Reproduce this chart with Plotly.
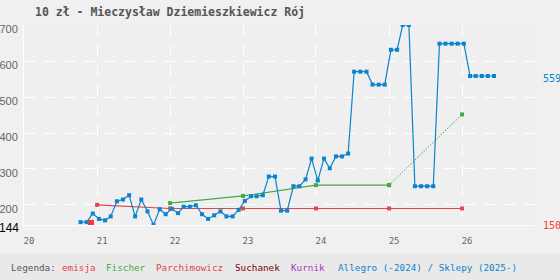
import plotly.graph_objects as go

# ---- data ----
allegro_dates = [
    "2020-10-10", "2020-11-10", "2020-12-10",
    "2021-01-10", "2021-02-10", "2021-03-10", "2021-04-10", "2021-05-10", "2021-06-10",
    "2021-07-10", "2021-08-10", "2021-09-10", "2021-10-10", "2021-11-10", "2021-12-10",
    "2022-01-10", "2022-02-10", "2022-03-10", "2022-04-10", "2022-05-10", "2022-06-10",
    "2022-07-10", "2022-08-10", "2022-09-10", "2022-10-10", "2022-11-10", "2022-12-10",
    "2023-01-10", "2023-02-10", "2023-03-10", "2023-04-10", "2023-05-10", "2023-06-10",
    "2023-07-10", "2023-08-10", "2023-09-10", "2023-10-10", "2023-11-10", "2023-12-10",
    "2024-01-10", "2024-02-10", "2024-03-10", "2024-04-10", "2024-05-10", "2024-06-10",
    "2024-07-10", "2024-08-10", "2024-09-10", "2024-10-10", "2024-11-10", "2024-12-10",
    "2025-01-10", "2025-02-10", "2025-03-10", "2025-04-10", "2025-05-10", "2025-06-10",
    "2025-07-10", "2025-08-10", "2025-09-10", "2025-10-10", "2025-11-10", "2025-12-10",
    "2026-01-10", "2026-02-10", "2026-03-10", "2026-04-10", "2026-05-10", "2026-06-10",
]
allegro_values = [
    152, 152, 176,
    161, 157, 168, 210, 215, 227,
    168, 215, 182, 144, 188, 174,
    189, 177, 195, 195, 199, 174,
    161, 171, 182, 168, 168, 186,
    211, 224, 224, 227, 279, 279,
    184, 184, 252, 252, 271, 329,
    268, 329, 302, 335, 335, 343,
    571, 571, 571, 535, 535, 535,
    632, 632, 701, 701, 252, 252,
    252, 252, 649, 649, 649, 649,
    649, 559, 559, 559, 559, 559,
]

parch_dates = ["2021-01-01", "2022-01-01", "2023-01-01", "2024-01-01", "2025-01-01", "2026-01-01"]
parch_values = [200, 190, 190, 190, 190, 190]

fischer_dates = ["2022-01-01", "2023-01-01", "2024-01-01", "2025-01-01"]
fischer_values = [205, 225, 255, 255]
fischer_proj_dates = ["2025-01-01", "2026-01-01"]
fischer_proj_values = [255, 452]

emisja_dates = ["2020-12-01"]
emisja_values = [150]

year_ticks = ["2020-01-01", "2021-01-01", "2022-01-01", "2023-01-01",
              "2024-01-01", "2025-01-01", "2026-01-01"]
year_labels = ["20", "21", "22", "23", "24", "25", "26"]
y_ticks = [200, 300, 400, 500, 600, 700]

title_text = "10 zł - Mieczysław Dziemieszkiewicz Rój"

C_BLUE = "#0a84cc"
C_RED = "#e04848"
C_EMISJA = "#f03c3c"
C_GREEN = "#44aa44"
C_SUCH = "#800000"
C_KURNIK = "#a040b0"
MONO = "DejaVu Sans Mono"

fig = go.Figure()
fig.add_trace(go.Scatter(x=parch_dates, y=parch_values, mode="lines+markers",
                         line=dict(color=C_RED, width=1.2),
                         marker=dict(symbol="square", size=4, color=C_RED)))
fig.add_trace(go.Scatter(x=fischer_dates, y=fischer_values, mode="lines+markers",
                         line=dict(color=C_GREEN, width=1.2),
                         marker=dict(symbol="square", size=4, color=C_GREEN)))
fig.add_trace(go.Scatter(x=fischer_proj_dates, y=fischer_proj_values, mode="lines+markers",
                         line=dict(color=C_GREEN, width=1, dash="1.5px,1.5px"),
                         marker=dict(symbol="square", size=4, color=C_GREEN)))
fig.add_trace(go.Scatter(x=allegro_dates, y=allegro_values, mode="lines+markers",
                         line=dict(color=C_BLUE, width=1.2),
                         marker=dict(symbol="square", size=4, color=C_BLUE)))
fig.add_trace(go.Scatter(x=emisja_dates, y=emisja_values, mode="markers",
                         marker=dict(symbol="square", size=6, color=C_EMISJA)))

W, H = 560, 280
L, R, T, B = 24, 25, 25, 55
pw = W - L - R


def px(x):
    return (x - L) / pw


annotations = [
    dict(text="144", xref="paper", yref="y", x=px(21), y=144, xanchor="right",
         yanchor="middle", yshift=-3, showarrow=False,
         font=dict(family="Liberation Sans", size=12, color="#000")),
    dict(text=str(allegro_values[-1]), xref="paper", yref="y", x=1, xshift=6,
         y=allegro_values[-1], yshift=-3, xanchor="left", yanchor="middle", showarrow=False,
         font=dict(family=MONO, size=10, color=C_BLUE)),
    dict(text=str(emisja_values[0]), xref="paper", yref="y", x=1, xshift=6,
         y=emisja_values[0], yshift=-3, xanchor="left", yanchor="middle", showarrow=False,
         font=dict(family=MONO, size=10, color=C_EMISJA)),
]

legend_items = [
    ("Legenda:", "#555555", 9),
    ("emisja", C_EMISJA, 60),
    ("Fischer", C_GREEN, 104),
    ("Parchimowicz", C_RED, 154),
    ("Suchanek", C_SUCH, 233),
    ("Kurnik", C_KURNIK, 289),
    ("Allegro (-2024) / Sklepy (2025-)", C_BLUE, 336),
]
for txt, col, xp in legend_items:
    annotations.append(dict(text=txt, xref="paper", yref="paper", x=px(xp),
                            y=-(267 - (H - B)) / (H - T - B), xanchor="left",
                            yanchor="middle", showarrow=False,
                            font=dict(family=MONO, size=9.3, color=col)))

fig.update_layout(
    width=W, height=H,
    margin=dict(l=L, r=R, t=T, b=B, pad=0, autoexpand=False),
    paper_bgcolor="#f0f0f0",
    plot_bgcolor="#efefef",
    showlegend=False,
    title=dict(text=title_text, x=35 / W, xanchor="left", y=1 - 12 / H, yanchor="middle",
               font=dict(family=MONO, size=11.5, color="#555555", weight="bold")),
    annotations=annotations,
    shapes=[dict(type="rect", xref="paper", yref="paper",
                 x0=-L / pw, x1=(W - L) / pw,
                 y0=-(H - T) / (H - T - B), y1=-(254 - (H - B)) / (H - T - B),
                 fillcolor="#e9e9e9", line=dict(width=0), layer="below")],
    xaxis=dict(type="date", range=["2020-01-01", "2027-01-01"], automargin=False,
               tickvals=year_ticks, ticktext=year_labels,
               showgrid=True, gridcolor="white", gridwidth=1, griddash="11px,9px",
               showline=True, linecolor="white", linewidth=1, zeroline=False,
               ticks="", ticklabelstandoff=7, ticklabelshift=5,
               tickfont=dict(family=MONO, size=9, color="#666666")),
    yaxis=dict(range=[144, 701], tickvals=y_ticks, automargin=False,
               showgrid=True, gridcolor="white", gridwidth=1, griddash="11px,9px",
               showline=True, linecolor="white", linewidth=1, zeroline=False,
               ticks="", ticklabelstandoff=3, ticklabelshift=4,
               tickfont=dict(family="Liberation Sans", size=11, color="#666666")),
)

fig.write_html("out.html")
